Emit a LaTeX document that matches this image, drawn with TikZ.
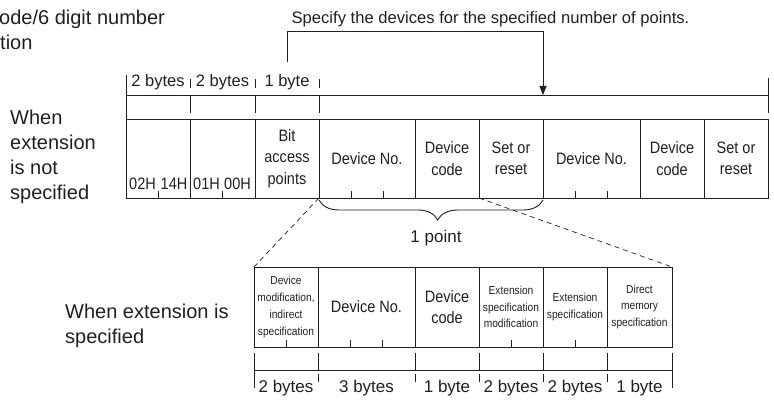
\documentclass[tikz,border=0pt]{standalone}
\usepackage{fontspec}
\setmainfont{Liberation Sans}
\newfontfamily\cellfont[FakeStretch=0.88]{Liberation Sans}
\usetikzlibrary{positioning,calc,arrows.meta,decorations.pathreplacing}
\definecolor{ink}{HTML}{231F20}

\begin{document}
\begin{tikzpicture}[x=1pt, y=-1pt,
  every node/.style={text=ink, inner sep=0pt},
  cell/.style={draw=ink, line width=0.9pt, outer sep=0pt,
               minimum height=79pt, minimum width=#1, align=center,
               font=\cellfont\fontsize{16.5}{21.5}\selectfont},
  cell/.default=64pt,
  small/.style={font=\cellfont\fontsize{11.6}{16.7}\selectfont},
  hexval/.style={anchor=base, font=\cellfont\fontsize{16.5}{20}\selectfont},
  lbl/.style={anchor=base, font=\fontsize{16.5}{20}\selectfont},
  side/.style={align=left, font=\fontsize{20}{25}\selectfont},
  dim/.style={draw=ink, line width=0.8pt},
  guide/.style={draw=ink, line width=0.7pt, dash pattern=on 5pt off 4pt},
  curly/.style={draw=ink, line width=0.9pt, decorate,
                decoration={brace, mirror, amplitude=20pt, raise=2pt, aspect=0.53}},
  arrow/.style={draw=ink, line width=0.8pt, -{Triangle[length=9pt,width=7pt]}},
]
\useasboundingbox (0,0) rectangle (774,403);

% ── Headings ──
\node[side, anchor=base west] (hdr1) at (-1,25) {ode/6 digit number};
\node[side, anchor=base west] (hdr2) at (0,50) {tion};
\node[lbl, font=\fontsize{16.6}{20}\selectfont] (spec) at (490.5,24)
  {Specify the devices for the specified number of points.};

\node[side, anchor=north west] (plain) at (10,110) {When\\extension\\is not\\specified};
\node[side, anchor=north west] (ext) at (65,304) {When extension is\\specified};

% ── Frame without extension ──
\node[cell, anchor=north west] (t1) at (126,119) {};
\node[cell=65pt, right=0pt of t1] (t2) {};
\node[cell, right=0pt of t2] (t3) {Bit\\access\\points};
\node[cell=96pt, right=0pt of t3] (t4) {Device No.};
\node[cell, right=0pt of t4] (t5) {Device\\code};
\node[cell, right=0pt of t5] (t6) {Set or\\reset};
\node[cell=97pt, right=0pt of t6] (t7) {Device No.};
\node[cell, right=0pt of t7] (t8) {Device\\code};
\node[cell, right=0pt of t8] (t9) {Set or\\reset};

\node[hexval] (v02) at (142.5,190) {02H};
\node[hexval] (v14) at (174,190) {14H};
\node[hexval] (v01) at (206.5,190) {01H};
\node[hexval] (v00) at (237.5,190) {00H};

\foreach \c in {t1,t2} \draw[dim] (\c.south) -- ++(0,-6.5);
\foreach \c in {t4,t7} {
  \draw[dim] ($(\c.south west)!1/3!(\c.south east)$) -- ++(0,-6.5);
  \draw[dim] ($(\c.south west)!2/3!(\c.south east)$) -- ++(0,-6.5);
}

% ── Byte sizes above ──
\coordinate (topdim) at (0,95);
\draw[dim] (t1.north west |- topdim) -- (t9.north east |- topdim);
\draw[dim] (t1.north west) -- ++(0,-44);
\foreach \c in {t1,t2,t3} {
  \draw[dim] (\c.north east |- topdim) -- ++(0,18);
  \draw[dim] (\c.north east |- topdim) ++(0,-7) -- ++(0,-9);
}
\draw[dim] (t9.north east |- topdim) ++(0,-17) -- ++(0,35);

\node[lbl] (b1) at (158,87) {2 bytes};
\node[lbl] (b2) at (222.5,87) {2 bytes};
\node[lbl] (b3) at (287,87) {1 byte};

% ── Pointer to the device points ──
\coordinate (pts) at (t6.north east |- topdim);
\coordinate (turn) at (543,31);
\draw[arrow] (b3.north) ++(0,-13) |- (turn) -- (pts);

% ── One point ──
\draw[curly] (t4.south west) -- (t6.south east);
\node[lbl, font=\fontsize{17}{20}\selectfont] (onept) at (436,243) {1 point};

% ── Frame with extension ──
\node[cell, minimum height=80pt, small, anchor=north west] (d1) at (254,267)
  {Device\\modification,\\indirect\\specification};
\node[cell=97pt, minimum height=80pt, right=0pt of d1] (d2) {Device No.};
\node[cell, minimum height=80pt, right=0pt of d2] (d3) {Device\\code};
\node[cell, minimum height=80pt, small, right=0pt of d3] (d4)
  {Extension\\specification\\modification};
\node[cell, minimum height=80pt, small, right=0pt of d4] (d5)
  {Extension\\specification};
\node[cell=65pt, minimum height=80pt, small, right=0pt of d5] (d6)
  {Direct\\memory\\specification};

\foreach \c in {d1,d4,d5} \draw[dim] (\c.south) -- ++(0,-6.5);
\draw[dim] ($(d2.south west)!1/3!(d2.south east)$) -- ++(0,-6.5);
\draw[dim] ($(d2.south west)!2/3!(d2.south east)$) -- ++(0,-6.5);

\draw[guide] (t4.south west) -- (d1.north west);
\draw[guide] (t6.south west) -- (d6.north east);

% ── Byte sizes below ──
\coordinate (botdim) at (0,370);
\draw[dim] (d1.south west |- botdim) -- (d6.south east |- botdim);
\draw[dim] (d1.south west) ++(0,6) -- ++(0,35);
\draw[dim] (d6.south east) ++(0,6) -- ++(0,35);
\foreach \c in {d1,d2,d3,d4,d5} {
  \draw[dim] (\c.south east) ++(0,6) -- (\c.south east |- botdim);
  \draw[dim] (\c.south east |- botdim) ++(0,4) -- ++(0,8);
}

\node[lbl, font=\fontsize{17}{20}\selectfont] (s1) at (d1.south |- 0,392) {2 bytes};
\node[lbl, font=\fontsize{17}{20}\selectfont] (s2) at (d2.south |- 0,392) {3 bytes};
\node[lbl, font=\fontsize{17}{20}\selectfont] (s3) at (d3.south |- 0,392) {1 byte};
\node[lbl, font=\fontsize{17}{20}\selectfont] (s4) at (d4.south |- 0,392) {2 bytes};
\node[lbl, font=\fontsize{17}{20}\selectfont] (s5) at (d5.south |- 0,392) {2 bytes};
\node[lbl, font=\fontsize{17}{20}\selectfont] (s6) at (d6.south |- 0,392) {1 byte};

\end{tikzpicture}
\end{document}
